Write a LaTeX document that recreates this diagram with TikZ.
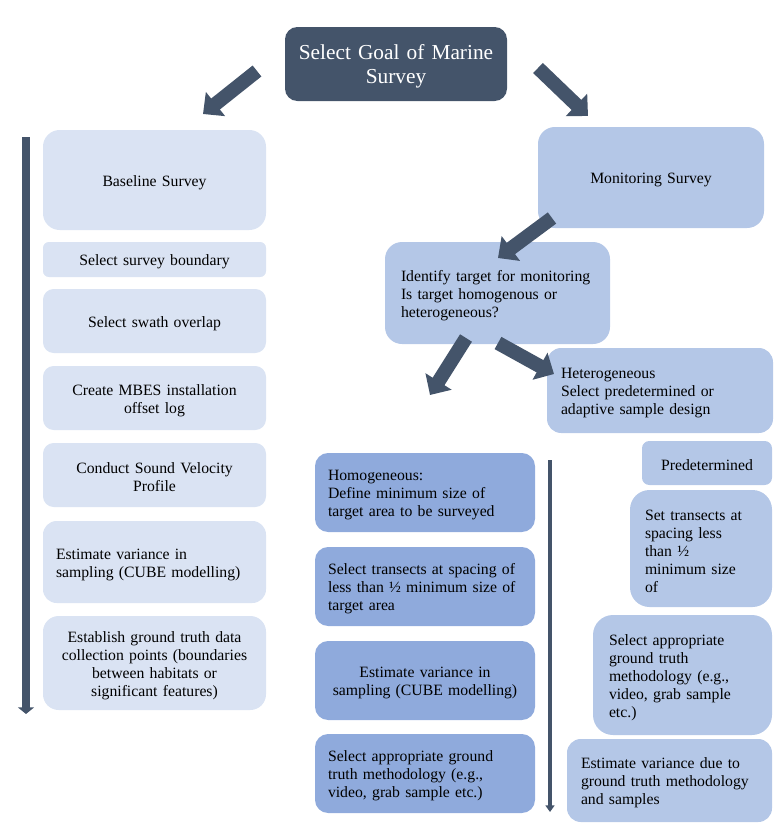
\documentclass[tikz,border=0pt]{standalone}
\usepackage{fontspec}
\setmainfont{Liberation Serif}
\usetikzlibrary{arrows.meta}
\definecolor{dk}{HTML}{44546A}
\definecolor{lt}{HTML}{DAE3F3}
\definecolor{md}{HTML}{B4C7E7}
\definecolor{dp}{HTML}{8FAADC}
\begin{document}
\begin{tikzpicture}[x=0.75pt,y=-0.75pt,
  txt/.style={font=\fontsize{11.8}{13.5}\selectfont, text=black,
    execute at begin node={\rule{0pt}{12pt}}},
  cb/.style 2 args={txt, minimum width=#1*0.75pt, minimum height=#2*0.75pt,
    rounded corners=#2*0.125pt, inner ysep=0pt, inner xsep=3pt,
    text width=#1*0.75pt-6pt, align=center},
  lb/.style n args={3}{txt, minimum width=#1*0.75pt, minimum height=#2*0.75pt,
    rounded corners=#2*0.125pt, inner ysep=0pt, inner xsep=#3*0.75pt-1.5pt,
    text width=#1*0.75pt-#3*1.5pt+3pt, align=left},
  big/.style={dk, line width=10.5pt, -{Triangle[width=22.5pt,length=12pt]}},
  vline/.style={dk, -{Triangle[width=#1*1.5pt,length=5pt]}, line width=#1*0.75pt},
]
\useasboundingbox (0,0) rectangle (779,828);

% title
\node[cb={222}{74}, fill=dk, text=white, font=\fontsize{16}{18}\selectfont,
  execute at begin node={\rule{0pt}{15.4pt}}] (goal) at (396,64) {Select Goal of Marine\\Survey};

% left column
\node[cb={223}{100}, fill=lt] (base) at (154.5,180) {Baseline Survey};
\node[cb={223}{35}, fill=lt] (bound) at (154.5,259.5) {Select survey boundary};
\node[cb={223}{64}, fill=lt] (swath) at (154.5,321) {Select swath overlap};
\node[cb={223}{64}, fill=lt] (mbes) at (154.5,398) {Create MBES installation\\offset log};
\node[cb={223}{64}, fill=lt] (svp) at (154.5,475) {Conduct Sound Velocity\\Profile};
\node[lb={223}{82}{15}, fill=lt] (var) at (154.5,562) {Estimate variance in\\sampling (CUBE modelling)};
\node[cb={223}{94}, fill=lt] (gt) at (154.5,663) {Establish ground truth data\\collection points (boundaries\\between habitats or\\significant features)};

% right column
\node[cb={226}{101}, fill=md] (mon) at (651,177.5) {Monitoring Survey};
\node[lb={225}{102}{18}, fill=md] (ident) at (497.5,293) {Identify target for monitoring\\Is target homogenous or\\heterogeneous?};
\node[lb={226}{85}{16}, fill=md] (het) at (660,390.5) {Heterogeneous\\Select predetermined or\\adaptive sample design};
\node[cb={130}{44}, fill=md] (pred) at (707,463) {Predetermined};
\node[lb={142}{117}{17}, fill=md] (trans) at (701,548.5) {Set transects at\\spacing less\\than ½\\minimum size\\of};
\node[lb={179}{120}{18}, fill=md] (gtm) at (682.5,675) {Select appropriate\\ground truth\\methodology (e.g.,\\video, grab sample\\etc.)};
\node[lb={205}{83}{16}, fill=md] (evd) at (669.5,780.5) {Estimate variance due to\\ground truth methodology\\and samples};

% middle column
\node[lb={220}{79}{15}, fill=dp] (hom) at (425,492.5) {Homogeneous:\\Define minimum size of\\target area to be surveyed};
\node[lb={220}{79}{15}, fill=dp] (st) at (425,586.5) {Select transects at spacing of\\less than ½ minimum size of\\target area};
\node[cb={220}{79}, fill=dp] (ev) at (425,680.5) {Estimate variance in\\sampling (CUBE modelling)};
\node[lb={220}{79}{15}, fill=dp] (sa) at (425,773.5) {Select appropriate ground\\truth methodology (e.g.,\\video, grab sample etc.)};

% block arrows
\coordinate (a1s) at (257,71);
\coordinate (a1e) at (203,114);
\coordinate (a2s) at (538,68);
\coordinate (a2e) at (588,116);
\coordinate (a3s) at (552,218);
\coordinate (a3e) at (498,258);
\coordinate (a4s) at (466,338);
\coordinate (a4e) at (430,395);
\coordinate (a5s) at (498,343);
\coordinate (a5e) at (554,374);
\draw[big] (a1s) -- (a1e);
\draw[big] (a2s) -- (a2e);
\draw[big] (a3s) -- (a3e);
\draw[big] (a4s) -- (a4e);
\draw[big] (a5s) -- (a5e);

% vertical arrows
\coordinate (v1s) at (26,137);
\coordinate (v1e) at (26,714);
\coordinate (v2s) at (550,460);
\coordinate (v2e) at (550,812);
\draw[vline=8] (v1s) -- (v1e);
\draw[vline=4.5] (v2s) -- (v2e);
\end{tikzpicture}
\end{document}
